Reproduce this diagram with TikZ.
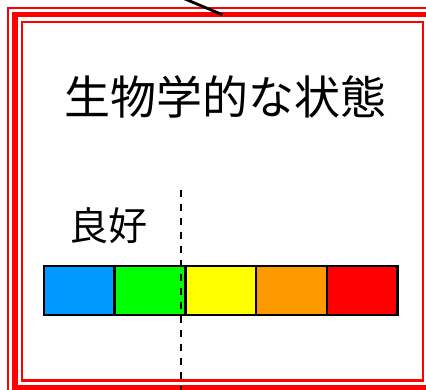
\documentclass[tikz,border=0pt]{standalone}
\usepackage{fontspec}
\newfontfamily\cjk{Noto Sans CJK JP}
\definecolor{cblue}{HTML}{0099FF}
\definecolor{cgreen}{HTML}{00FF00}
\definecolor{cyellow}{HTML}{FFFF00}
\definecolor{corange}{HTML}{FF9900}
\definecolor{cred}{HTML}{FF0000}
\tikzset{
  framebox/.style={draw=cred, line width=5.6pt, rectangle, inner sep=0pt, outer sep=0pt,
    minimum width=415.3pt, minimum height=372.8pt},
  thinred/.style={draw=cred, line width=1.9pt},
  innerred/.style={draw=cred, line width=2.2pt},
  cell/.style={draw=black, line width=2.5pt, rectangle, inner sep=0pt, outer sep=0pt,
    minimum width=70.7pt, minimum height=49pt},
  divider/.style={draw=black, line width=2.2pt, dash pattern=on 7pt off 7pt},
  link/.style={draw=black, line width=2.8pt},
  title/.style={font=\cjk\fontsize{46}{50}\selectfont, inner sep=0pt},
  label/.style={font=\cjk\fontsize{39}{44}\selectfont, inner sep=0pt}
}
\begin{document}
\begin{tikzpicture}[x=1pt,y=-1pt]
\useasboundingbox (0,0) rectangle (426,390);
\clip (0,0) rectangle (426,390);
\fill[white] (0,0) rectangle (426,390);
% frame
\node[framebox] (frame) at (222.35,201.1) {};
\draw[thinred] ([shift={(-6.6,-6.6)}]frame.north west) rectangle ([shift={(6.6,6.6)}]frame.south east);
\draw[innerred] ([shift={(7,7)}]frame.north west) rectangle ([shift={(-7,-7)}]frame.south east);
% texts
\node[title] (ttl) at (225.5,97) {生物学的な状態};
\node[label] (good) at (108.5,225.5) {良好};
% colour bar
\node[cell, fill=cblue]   (c1) at (79.35,290.5) {};
\node[cell, fill=cgreen]  (c2) at (150.05,290.5) {};
\node[cell, fill=cyellow] (c3) at (220.75,290.5) {};
\node[cell, fill=corange] (c4) at (291.45,290.5) {};
\node[cell, fill=cred]    (c5) at (362.15,290.5) {};
% divider
\coordinate (dtop) at (181,190);
\coordinate (dbot) at (181,395);
\draw[divider] (dtop) -- (dbot);
% connector from outside
\coordinate (src) at (151,-15.3);
\draw[link] (src) -- (frame.north);
\end{tikzpicture}
\end{document}
